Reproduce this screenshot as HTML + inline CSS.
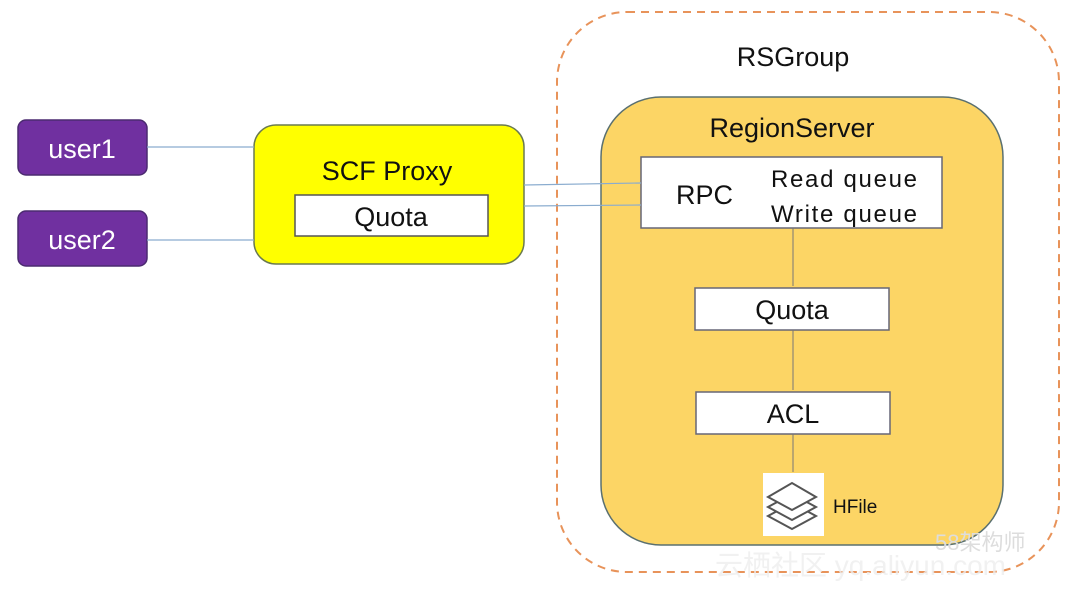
<!DOCTYPE html>
<html><head><meta charset="utf-8"><style>
body{margin:0;width:1080px;height:590px;background:#fff;overflow:hidden}
svg text{font-family:"Liberation Sans","Noto Sans CJK SC",sans-serif}
</style></head><body>
<svg width="1080" height="590" viewBox="0 0 1080 590">
<rect x="557" y="12" width="502" height="560" rx="70" fill="none" stroke="#e8935a" stroke-width="2" stroke-dasharray="8,6"/>
<text x="793" y="66" font-size="27" text-anchor="middle" fill="#111">RSGroup</text>
<rect x="601" y="97" width="402" height="448" rx="60" fill="#fcd565" stroke="#5a7070" stroke-width="1.5"/>
<text x="792" y="137" font-size="27" text-anchor="middle" fill="#111">RegionServer</text>
<rect x="641" y="157" width="301" height="71" fill="#fff" stroke="#667" stroke-width="1.5"/>
<text x="676" y="204" font-size="27" fill="#111">RPC</text>
<text x="771" y="187" font-size="24" fill="#111" textLength="146">Read  queue</text>
<text x="771" y="222" font-size="24" fill="#111" textLength="146">Write queue</text>
<rect x="695" y="288" width="194" height="42" fill="#fff" stroke="#667" stroke-width="1.5"/>
<text x="792" y="319" font-size="27" text-anchor="middle" fill="#111">Quota</text>
<rect x="696" y="392" width="194" height="42" fill="#fff" stroke="#667" stroke-width="1.5"/>
<text x="793" y="423" font-size="27" text-anchor="middle" fill="#111">ACL</text>
<g stroke="#777" stroke-width="1" fill="#777">
<line x1="793" y1="228" x2="793" y2="286"/><line x1="793" y1="330" x2="793" y2="390"/><line x1="793" y1="434" x2="793" y2="472"/>
</g>
<rect x="763" y="473" width="61" height="63" fill="#fff"/>
<g fill="#fff" stroke="#555" stroke-width="2">
<path d="M768 516 l24 -13 l24 13 l-24 13z"/><path d="M768 507 l24 -13 l24 13 l-24 13z"/><path d="M768 497 l24 -14 l24 14 l-24 13z"/>
</g>
<text x="833" y="513" font-size="19" fill="#111">HFile</text>
<rect x="18" y="120" width="129" height="55" rx="8" fill="#7030a0" stroke="#4b2a70" stroke-width="1.5"/>
<text x="82" y="158" font-size="27" text-anchor="middle" fill="#fff">user1</text>
<rect x="18" y="211" width="129" height="55" rx="8" fill="#7030a0" stroke="#4b2a70" stroke-width="1.5"/>
<text x="82" y="249" font-size="27" text-anchor="middle" fill="#fff">user2</text>
<rect x="254" y="125" width="270" height="139" rx="22" fill="#ffff00" stroke="#6a7a50" stroke-width="1.5"/>
<text x="387" y="180" font-size="27" text-anchor="middle" fill="#111">SCF Proxy</text>
<rect x="295" y="195" width="193" height="41" fill="#fff" stroke="#555" stroke-width="1.5"/>
<text x="391" y="226" font-size="27" text-anchor="middle" fill="#111">Quota</text>
<g stroke="#8aaccf" stroke-width="1.2">
<line x1="147" y1="147" x2="254" y2="147"/><line x1="147" y1="240" x2="254" y2="240"/>
<line x1="524" y1="185" x2="641" y2="183"/><line x1="524" y1="206" x2="641" y2="205"/>
</g>
<text x="935" y="550" font-size="22" fill="#ddd">58架构师</text>
<text x="715" y="575" font-size="28" fill="#eee" opacity="0.8">云栖社区 yq.aliyun.com</text>
</svg>
</body></html>
